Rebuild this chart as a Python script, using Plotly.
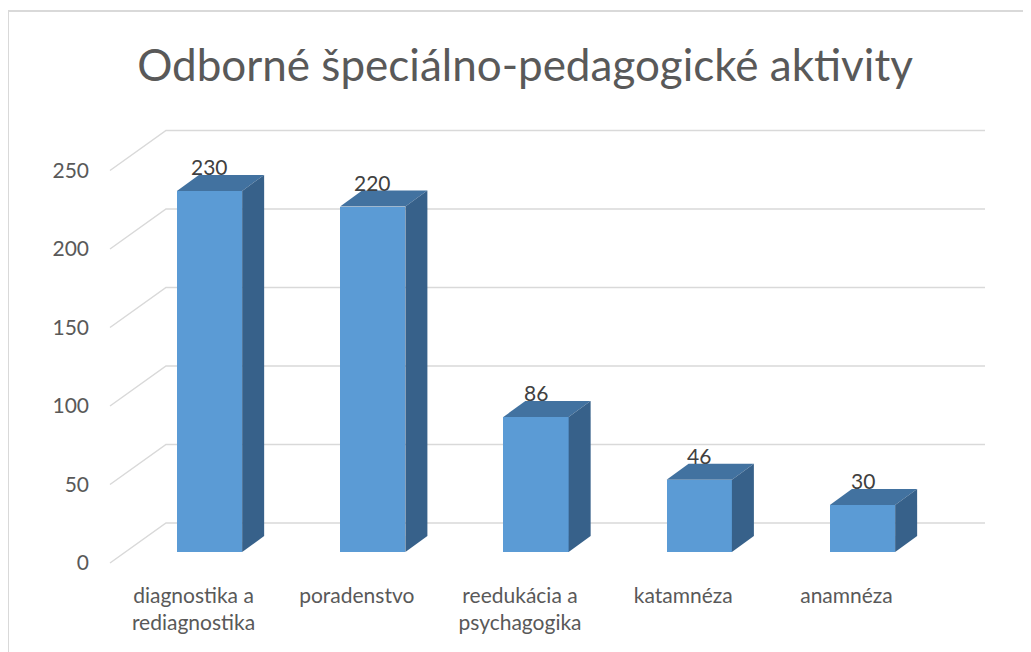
import plotly.graph_objects as go

categories = ["diagnostika a<br>rediagnostika", "poradenstvo", "reedukácia a<br>psychagogika", "katamnéza", "anamnéza"]
values = [230, 220, 86, 46, 30]
tick_values = [0, 50, 100, 150, 200, 250]
title_text = "Odborné špeciálno-pedagogické aktivity"

# the page body adds an 8px margin; all pixel positions below are reference pixels
OFF = 8
W, H = 1031 - OFF, 652 - OFF
L, R, T, B = 100, 1000, 100, 572      # plot area in reference pixels
PX_CAT = 163.25       # px per category
X0_PX = 209.5         # pixel of first category centre
PX_UNIT = 1.57        # px per value unit
Y0_PX = 552           # pixel of value 0 (bar front)

def px2x(p):
    return (p - X0_PX) / PX_CAT

def dpy(p):
    return p / PX_UNIT

xr = [px2x(L), px2x(R)]
yr = [(Y0_PX - B) / PX_UNIT, (Y0_PX - T) / PX_UNIT]

BW = 0.4
DX = 22 / PX_CAT
DY = dpy(16)

front = "#5b9bd5"
top_c = "#4272a0"
side_c = "#37618a"
grid_c = "#d9d9d9"
txt = "#595959"
FONT = "Lato, Open Sans, sans-serif"

fig = go.Figure()
xs = list(range(len(values)))
fig.add_trace(go.Bar(x=xs, y=values, width=BW, marker=dict(color=front, line=dict(width=0)),
                     hoverinfo="skip", showlegend=False))

shapes = []
# gridlines (floor diagonal + back wall)
for v in tick_values:
    xa, xb, xc = px2x(110), px2x(166), px2x(985)
    ya, yb = v - dpy(11), v + dpy(29)
    shapes.append(dict(type="path", xref="x", yref="y", layer="below",
                       path=f"M {xa},{ya} L {xb},{yb} L {xc},{yb}",
                       line=dict(color=grid_c, width=1.5)))
# 3D faces
for x, v in zip(xs, values):
    l, r = x - BW / 2, x + BW / 2
    shapes.append(dict(type="path", xref="x", yref="y", layer="above",
                       path=f"M {l},{v} L {r},{v} L {r+DX},{v+DY} L {l+DX},{v+DY} Z",
                       fillcolor=top_c, line=dict(width=0)))
    shapes.append(dict(type="path", xref="x", yref="y", layer="above",
                       path=f"M {r},0 L {r},{v} L {r+DX},{v+DY} L {r+DX},{DY} Z",
                       fillcolor=side_c, line=dict(width=0)))
# outer border (left + top)
pw, ph = R - L, B - T
shapes.append(dict(type="rect", xref="paper", yref="paper",
                   x0=(8 - L) / pw, x1=(1031 + 20 - L) / pw,
                   y0=(B - (652 + 20)) / ph, y1=(B - 11) / ph,
                   line=dict(color=grid_c, width=2), fillcolor="rgba(0,0,0,0)", layer="below"))

annotations = []
for x, v in zip(xs, values):
    annotations.append(dict(x=x, y=v, xref="x", yref="y", text=str(v), showarrow=False,
                            yshift=24, yanchor="middle",
                            font=dict(family=FONT, size=21, color="#404040")))

fig.update_layout(
    width=W, height=H,
    margin=dict(l=L - OFF, r=1031 - R, t=T - OFF, b=652 - B),
    paper_bgcolor="white", plot_bgcolor="white",
    title=dict(text=title_text, x=(525 - OFF) / W, xanchor="center", y=1 - (66 - OFF) / H,
               yanchor="middle", font=dict(family=FONT, size=44, color=txt)),
    xaxis=dict(range=xr, tickvals=xs, ticktext=categories, showgrid=False, zeroline=False,
               showline=False, ticks="", ticklabelshift=-16, ticklabelstandoff=9,
               tickfont=dict(family=FONT, size=21, color=txt), fixedrange=True),
    yaxis=dict(range=yr, tickvals=tick_values, showgrid=False, zeroline=False, showline=False,
               ticks="", ticklabelshift=11, ticklabelstandoff=10,
               tickfont=dict(family=FONT, size=21, color=txt), fixedrange=True),
    shapes=shapes, annotations=annotations, bargap=0,
)

fig.write_html("out.html")
